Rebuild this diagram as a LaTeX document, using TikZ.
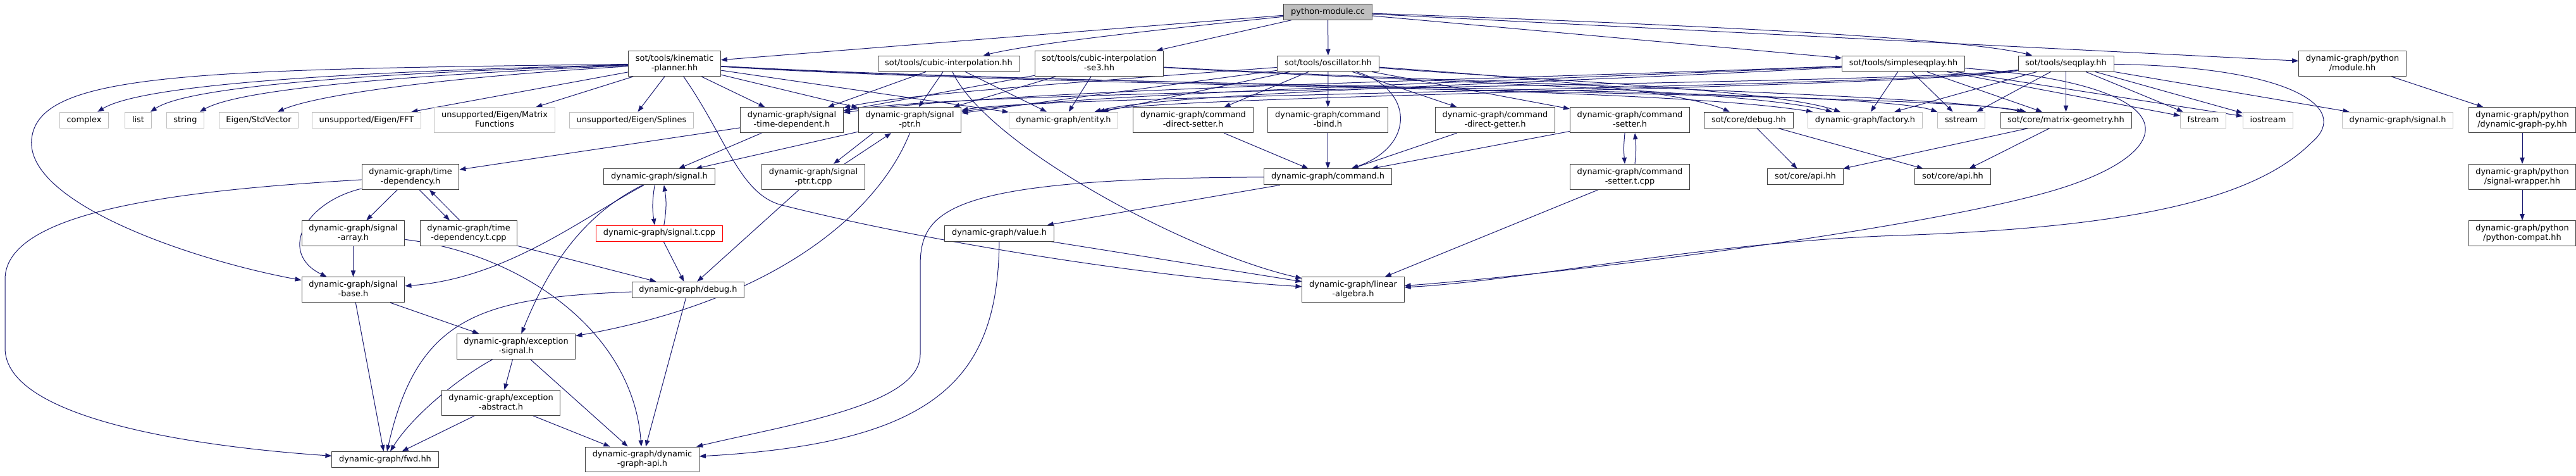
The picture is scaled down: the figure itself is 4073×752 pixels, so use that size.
\documentclass[tikz,border=0pt]{standalone}
\usepackage{fontspec}
\setmainfont{DejaVu Sans}
\usetikzlibrary{arrows.meta,backgrounds}
\definecolor{edgeblue}{HTML}{191970}
\definecolor{nodeline}{HTML}{404040}
\definecolor{extline}{HTML}{BFBFBF}
\definecolor{rootfill}{HTML}{BFBFBF}
\begin{document}
\begin{tikzpicture}[x=0.75pt,y=-0.75pt,
    box/.style={draw=nodeline,line width=0.75pt,fill=white,align=center,
      font=\fontsize{9.7}{11.2}\selectfont,inner xsep=8.4pt,inner ysep=4.47pt,
      text height=7.4pt,text depth=2.4pt},
    two/.style={text height=18.6pt},
    ext/.style={box,draw=extline},
    cur/.style={box,draw=red},
    root/.style={box,fill=rootfill}]
      \useasboundingbox (0,0) rectangle (4073,752);
      \draw
        (2099.5,18.7) node[root] (py){python-module.cc}
        (1066.5,100.5) node[box,two] (kp){sot/tools/kinematic\\-planner.hh}
        (1500,100.5) node[box] (ci){sot/tools/cubic-interpolation.hh}
        (1738,100.5) node[box,two] (cise3){sot/tools/cubic-interpolation\\-se3.hh}
        (2100,100.5) node[box] (osc){sot/tools/oscillator.hh}
        (3009.5,100.5) node[box] (ssp){sot/tools/simpleseqplay.hh}
        (3266.5,100.5) node[box] (sp){sot/tools/seqplay.hh}
        (3719.5,100.5) node[box,two] (pymod){dynamic-graph/python\\/module.hh}
        (133,189.7) node[ext] (complex){complex}
        (218.5,189.7) node[ext] (list){list}
        (293,189.7) node[ext] (string){string}
        (409,189.7) node[ext] (stdvec){Eigen/StdVector}
        (579.5,189.7) node[ext] (fft){unsupported/Eigen/FFT}
        (782,189.7) node[ext,two] (matfun){unsupported/Eigen/Matrix\\Functions}
        (998.5,189.7) node[ext] (splines){unsupported/Eigen/Splines}
        (1252,189.7) node[box,two] (sigtd){dynamic-graph/signal\\-time-dependent.h}
        (1438.5,189.7) node[box,two] (sigptr){dynamic-graph/signal\\-ptr.h}
        (1681.5,189.7) node[ext] (entity){dynamic-graph/entity.h}
        (1886.5,189.7) node[box,two] (cmddset){dynamic-graph/command\\-direct-setter.h}
        (2099.5,189.7) node[box,two] (cmdbind){dynamic-graph/command\\-bind.h}
        (2364,189.7) node[box,two] (cmddget){dynamic-graph/command\\-direct-getter.h}
        (2577,189.7) node[box,two] (cmdset){dynamic-graph/command\\-setter.h}
        (2765,189.7) node[box] (sotdebug){sot/core/debug.hh}
        (2949,189.7) node[ext] (factory){dynamic-graph/factory.h}
        (3101,189.7) node[ext] (sstream){sstream}
        (3266.5,189.7) node[box] (matgeo){sot/core/matrix-geometry.hh}
        (3483.5,189.7) node[ext] (fstream){fstream}
        (3586,189.7) node[ext] (iostream){iostream}
        (3791,189.7) node[ext] (dgsignal){dynamic-graph/signal.h}
        (3988,189.7) node[box,two] (dgpy){dynamic-graph/python\\/dynamic-graph-py.hh}
        (649,279.4) node[box,two] (timedep){dynamic-graph/time\\-dependency.h}
        (1042.5,279.4) node[box] (signal){dynamic-graph/signal.h}
        (1286,279.4) node[box,two] (sigptrt){dynamic-graph/signal\\-ptr.t.cpp}
        (2099.5,279.4) node[box] (command){dynamic-graph/command.h}
        (2577,279.4) node[box,two] (cmdsett){dynamic-graph/command\\-setter.t.cpp}
        (2854.5,279.4) node[box] (api1){sot/core/api.hh}
        (3087.5,279.4) node[box] (api2){sot/core/api.hh}
        (3988,279.4) node[box,two] (sigwrap){dynamic-graph/python\\/signal-wrapper.hh}
        (558.5,368.6) node[box,two] (sigarray){dynamic-graph/signal\\-array.h}
        (741,368.6) node[box,two] (timedept){dynamic-graph/time\\-dependency.t.cpp}
        (1042.5,368.6) node[cur] (signalt){dynamic-graph/signal.t.cpp}
        (1580,368.6) node[box] (value){dynamic-graph/value.h}
        (3988,368.6) node[box,two] (pycompat){dynamic-graph/python\\/python-compat.hh}
        (558.5,457.8) node[box,two] (sigbase){dynamic-graph/signal\\-base.h}
        (1088,457.8) node[box] (debug){dynamic-graph/debug.h}
        (2139.5,457.8) node[box,two] (linalg){dynamic-graph/linear\\-algebra.h}
        (816,547.5) node[box,two] (excsig){dynamic-graph/exception\\-signal.h}
        (792,636.5) node[box,two] (excabs){dynamic-graph/exception\\-abstract.h}
        (609,726) node[box] (fwd){dynamic-graph/fwd.hh}
        (1015.5,726) node[box,two] (dgapi){dynamic-graph/dynamic\\-graph-api.h};
      \begin{pgfonlayer}{background}
      \begin{scope}[draw=edgeblue,line width=0.75pt,-{Triangle[length=7.5pt,width=5.5pt]}]
        \draw (py) to (kp);
        \draw (py) .. controls (1900,40) and (1650,65) .. (ci);
        \draw (py) to (cise3);
        \draw (py) to (osc);
        \draw (py) to (ssp);
        \draw (py) .. controls (2700,40) and (3100,60) .. (sp);
        \draw (py) to (pymod);
        \draw (kp) .. controls (600,112) and (230,130) .. (complex);
        \draw (kp) .. controls (600,115) and (300,135) .. (list);
        \draw (kp) .. controls (650,118) and (380,140) .. (string);
        \draw (kp) .. controls (700,122) and (500,150) .. (stdvec);
        \draw (kp) to (fft);
        \draw (kp) to (matfun);
        \draw (kp) to (splines);
        \draw (kp) .. controls (300,110) and (60,115) .. (50,220) .. controls (40,320) and (300,410) .. (sigbase);
        \draw (kp) to (sigtd);
        \draw (kp) to (sigptr);
        \draw (kp) to (entity);
        \draw (kp) .. controls (1700,135) and (2600,135) .. (factory);
        \draw (kp) .. controls (1700,138) and (2950,138) .. (sstream);
        \draw (kp) .. controls (1700,141) and (3050,145) .. (matgeo);
        \draw (kp) .. controls (1150,220) and (1170,310) .. (1240,325) .. controls (1500,390) and (1850,440) .. (linalg);
        \draw (ci) to (sigtd);
        \draw (ci) to (sigptr);
        \draw (ci) to (entity);
        \draw (ci) .. controls (1560,230) and (1880,400) .. (linalg);
        \draw (cise3) to (sigtd);
        \draw (cise3) to (sigptr);
        \draw (cise3) to (entity);
        \draw (cise3) .. controls (2200,128) and (2750,140) .. (factory);
        \draw (cise3) .. controls (2300,131) and (3050,148) .. (matgeo);
        \draw (osc) .. controls (1700,130) and (1420,150) .. (sigtd);
        \draw (osc) to (sigptr);
        \draw (osc) to (entity);
        \draw (osc) to (cmddset);
        \draw (osc) to (cmdbind);
        \draw (osc) .. controls (2235,140) and (2240,230) .. (command);
        \draw (osc) to (cmddget);
        \draw (osc) to (cmdset);
        \draw (osc) .. controls (2350,118) and (2650,140) .. (sotdebug);
        \draw (osc) .. controls (2400,125) and (2800,140) .. (factory);
        \draw (ssp) .. controls (2400,125) and (1600,140) .. (sigtd);
        \draw (ssp) .. controls (2400,128) and (1700,148) .. (sigptr);
        \draw (ssp) .. controls (2500,130) and (1850,145) .. (entity);
        \draw (ssp) to (factory);
        \draw (ssp) to (sstream);
        \draw (ssp) to (matgeo);
        \draw (ssp) to (fstream);
        \draw (ssp) to (iostream);
        \draw (ssp) .. controls (3470,135) and (3450,240) .. (3250,300) .. controls (3050,360) and (2500,430) .. (linalg);
        \draw (sp) .. controls (3000,135) and (1550,138) .. (sigtd);
        \draw (sp) .. controls (3000,138) and (1650,150) .. (sigptr);
        \draw (sp) .. controls (3000,140) and (1850,150) .. (entity);
        \draw (sp) to (factory);
        \draw (sp) to (sstream);
        \draw (sp) to (matgeo);
        \draw (sp) to (fstream);
        \draw (sp) to (iostream);
        \draw (sp) to (dgsignal);
        \draw (sp) .. controls (3620,105) and (3720,170) .. (3655,225) .. controls (3560,320) and (3350,360) .. (3000,372) .. controls (2700,382) and (2400,445) .. (linalg);
        \draw (pymod) to (dgpy);
        \draw (dgpy) to (sigwrap);
        \draw (sigwrap) to (pycompat);
        \draw (sotdebug) to (api1);
        \draw (sotdebug) to (api2);
        \draw (matgeo) to (api1);
        \draw (matgeo) to (api2);
        \draw (sigtd) to (timedep);
        \draw (sigtd) to (signal);
        \draw (sigptr) to (signal);
        \draw ([xshift=-43.5pt]sigptr.south) to ([xshift=24pt]sigptrt.north);
        \draw ([xshift=37pt]sigptrt.north) to ([xshift=-22pt]sigptr.south);
        \draw (sigptr.south) .. controls (1395,320) and (1250,470) .. (excsig);
        \draw (sigptrt) to (debug);
        \draw (signal) .. controls (920,345) and (800,440) .. (sigbase);
        \draw (signal) .. controls (910,345) and (860,440) .. (excsig);
        \draw ([xshift=-5.5pt]signal.south) .. controls +(-4,25) and +(-4,-25) .. ([xshift=-5.5pt]signalt.north);
        \draw ([xshift=5.5pt]signalt.north) .. controls +(4,-25) and +(4,25) .. ([xshift=5.5pt]signal.south);
        \draw (signalt) to (debug);
        \draw (timedep) .. controls (480,320) and (440,400) .. (sigbase);
        \draw (timedep) to (sigarray);
        \draw ([xshift=10.5pt]timedep.south) to ([xshift=-22.5pt]timedept.north);
        \draw ([xshift=-10.5pt]timedept.north) to ([xshift=22.5pt]timedep.south);
        \draw (timedep) .. controls (300,300) and (10,330) .. (8,440) -- (8,550) .. controls (8,660) and (300,705) .. (fwd);
        \draw (timedept) to (debug);
        \draw (sigarray) to (sigbase);
        \draw (sigarray) .. controls (820,400) and (1000,520) .. (dgapi);
        \draw (sigbase) to (fwd);
        \draw (sigbase) to (excsig);
        \draw (debug) .. controls (760,470) and (660,500) .. (fwd);
        \draw (debug) to (dgapi);
        \draw (excsig) to (excabs);
        \draw (excsig) to (dgapi);
        \draw (excsig) .. controls (720,600) and (650,660) .. (fwd);
        \draw (excabs) to (fwd);
        \draw (excabs) to (dgapi);
        \draw (cmddset) to (command);
        \draw (cmdbind) to (command);
        \draw (cmddget) to (command);
        \draw (cmdset) to (command);
        \draw ([xshift=-6pt]cmdset.south) .. controls +(-2,25) and +(-2,-25) .. ([xshift=-6pt]cmdsett.north);
        \draw ([xshift=6pt]cmdsett.north) .. controls +(2,-25) and +(2,25) .. ([xshift=6pt]cmdset.south);
        \draw (cmdsett) to (linalg);
        \draw (command) to (value);
        \draw (command) .. controls (1500,282) and (1455,330) .. (1455,420) -- (1455,560) .. controls (1455,640) and (1250,670) .. (dgapi);
        \draw (value) to (linalg);
        \draw (value) .. controls (1578,600) and (1480,700) .. (dgapi);
      \end{scope}
      \end{pgfonlayer}
    \end{tikzpicture}
\end{document}
